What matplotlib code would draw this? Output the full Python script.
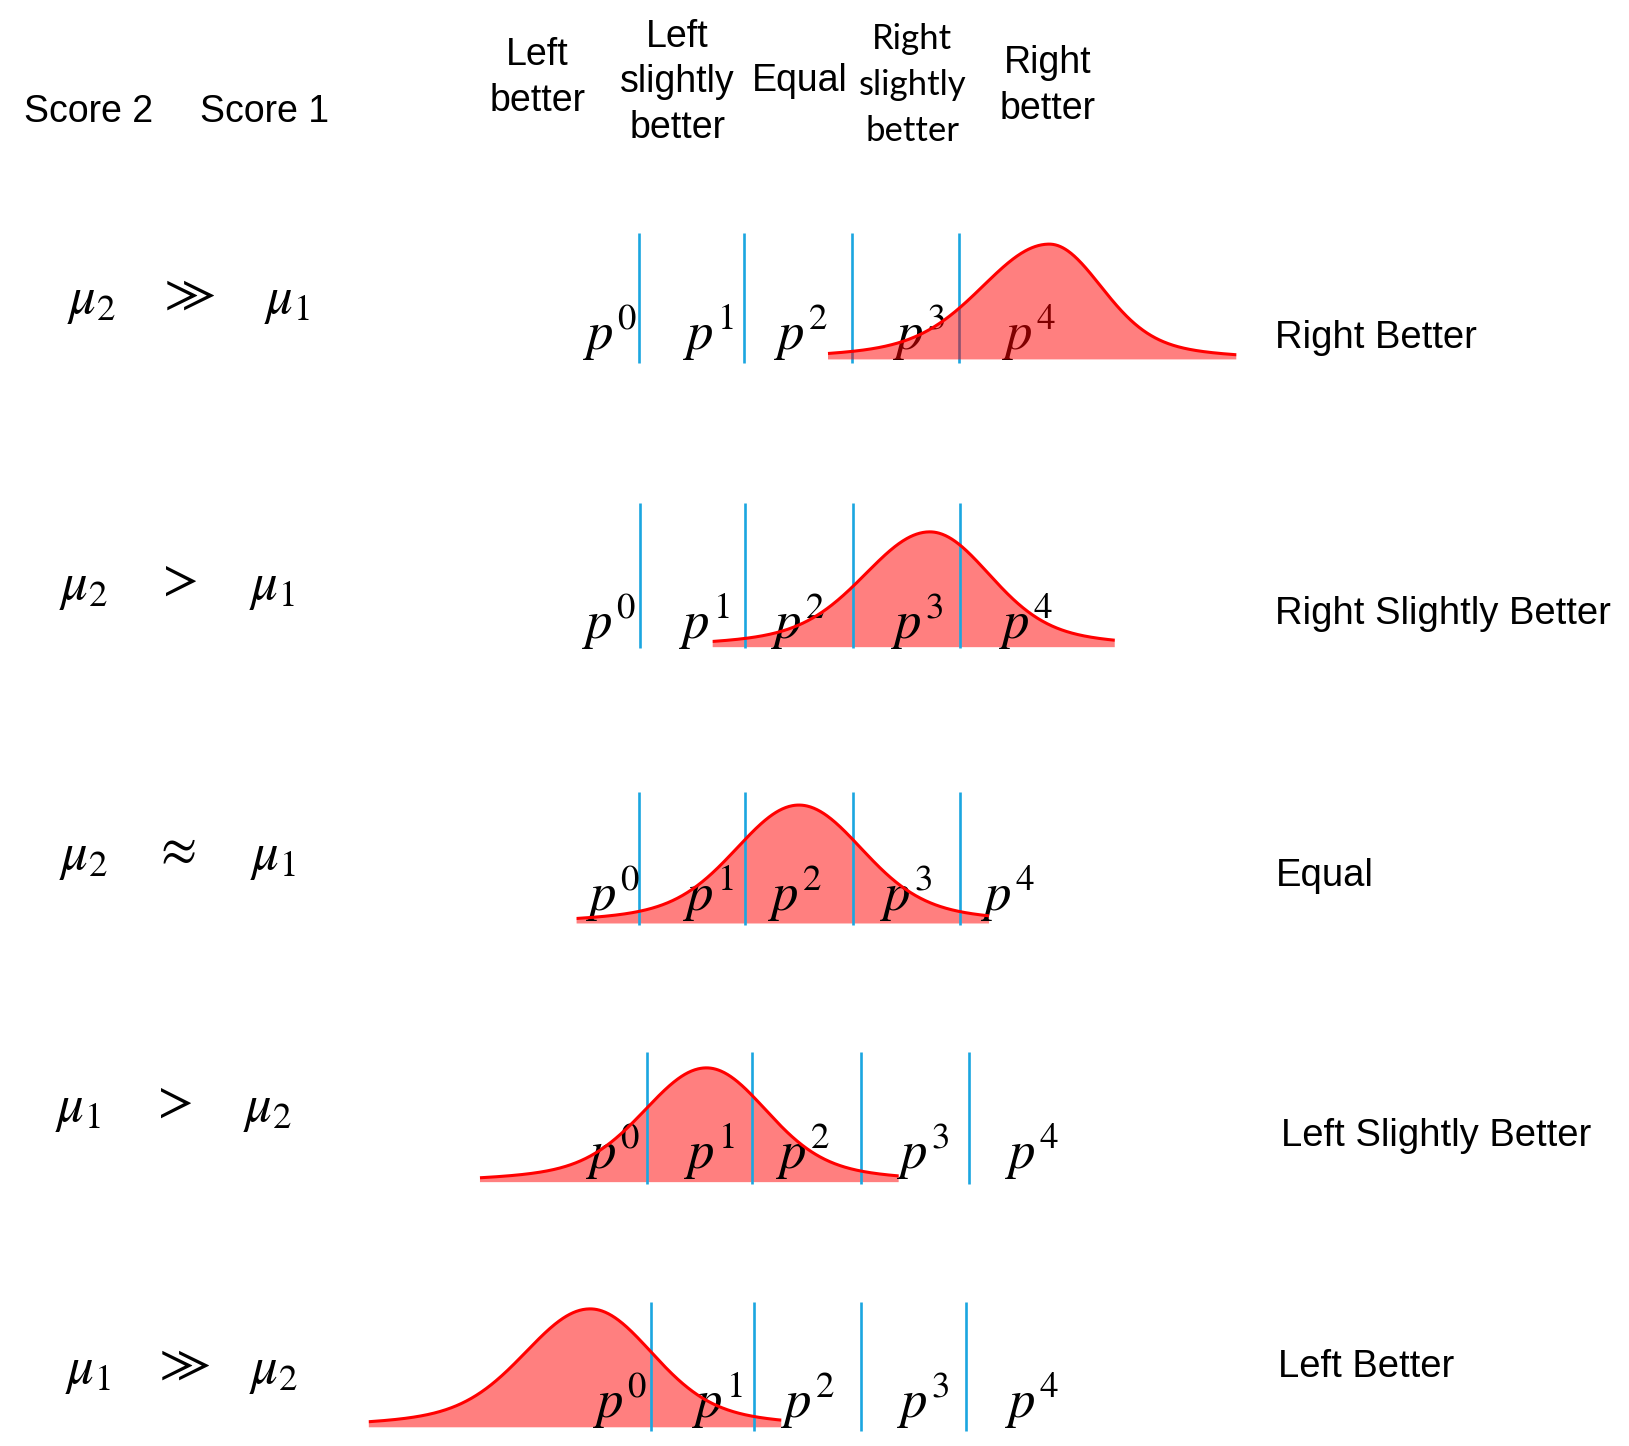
import numpy as np
import matplotlib
matplotlib.use("Agg")
import matplotlib.pyplot as plt

plt.rcParams["mathtext.fontset"] = "stix"
plt.rcParams["font.family"] = ["Liberation Sans", "DejaVu Sans"]

# --- diagram data (coordinates in a 1568 x 1392 drawing space) ---
header_labels = ["Left\nbetter", "Left\nslightly\nbetter", "Equal", "Right\nslightly\nbetter", "Right\nbetter"]
header_x = [517, 652, 770, 878, 1008]
header_y = [75, 79, 78, 82, 83]

row_names = ["Right Better", "Right Slightly Better", "Equal", "Left Slightly Better", "Left Better"]
name_x = [1227, 1227, 1228, 1233, 1230]
name_y = [335, 601, 853, 1103, 1326]

left_op = [r"$\mu_2$", r"$\mu_2$", r"$\mu_2$", r"$\mu_1$", r"$\mu_1$"]
relation = [r"$\gg$", r"$>$", r"$\approx$", r"$>$", r"$\gg$"]
right_op = [r"$\mu_1$", r"$\mu_1$", r"$\mu_1$", r"$\mu_2$", r"$\mu_2$"]
op_x = [[88, 180, 276], [80, 170, 262], [80, 168, 263], [75, 165, 257], [85, 175, 263]]
op_y = [290, 565, 825, 1068, 1320]

# bell curves
baseline = [346, 623, 889, 1138, 1374]
peak_x = [1010, 895, 769, 680, 568]
peak_h = [111, 111, 114, 110, 114]
sig_left = [62, 60, 58, 57, 60]
sig_right = [48, 55, 58, 55, 57]
curve_start = [797, 686, 555, 462, 355]
curve_end = [1190, 1073, 952, 865, 752]
fill_over_text = [True, False, False, False, False]

# category boundaries (blue lines)
bounds = [[615, 716, 820, 923], [616, 717, 821, 924], [615, 717, 821, 924],
          [623, 724, 829, 933], [627, 726, 829, 930]]
bound_top = [224, 484, 762, 1013, 1253]
bound_bottom = [349, 624, 890, 1140, 1378]

# p labels
p_text = [r"$p^0$", r"$p^1$", r"$p^2$", r"$p^3$", r"$p^4$"]
p_x = [[587, 682, 771, 885, 990], [586, 678, 768, 883, 987], [590, 682, 765, 872, 970],
       [590, 683, 773, 888, 993], [597, 690, 778, 888, 993]]
p_y = [337, 615, 877, 1125, 1365]

W, H = 1568, 1392
fig = plt.figure(figsize=(16.29, 14.46), dpi=100)
ax = fig.add_axes([0, 0, 1, 1])
ax.set_xlim(0, W)
ax.set_ylim(H, 0)
ax.axis("off")

# header
ax.text(85, 108, "Score 2", fontsize=27, ha="center", va="center")
ax.text(255, 108, "Score 1", fontsize=27, ha="center", va="center")
for lab, x, y in zip(header_labels, header_x, header_y):
    if lab.startswith("Right\nslightly"):
        ax.text(x, y, lab, fontsize=25, ha="center", va="center", family=["Lato", "DejaVu Sans"],
                linespacing=1.55)
    else:
        ax.text(x, y, lab, fontsize=27, ha="center", va="center", linespacing=1.34)

for i in range(5):
    # relation column
    xs = op_x[i]
    ax.text(xs[0], op_y[i], left_op[i], fontsize=38, ha="center", va="center")
    ax.text(xs[1], op_y[i] - 6, relation[i], fontsize=38, ha="center", va="center")
    ax.text(xs[2], op_y[i], right_op[i], fontsize=38, ha="center", va="center")

    # outcome name
    ax.text(name_x[i], name_y[i], row_names[i], fontsize=27.5, ha="left", va="baseline")

    # bell curve
    x = np.linspace(curve_start[i], curve_end[i], 500)
    dx = x - peak_x[i]
    s = np.where(dx < 0, sig_left[i], sig_right[i])
    h = peak_h[i] * (0.85 * np.exp(-dx**2 / (2 * s**2)) + 0.15 * np.exp(-dx**2 / (2 * (2.3 * s)**2)))
    top = baseline[i] - h
    zf = 4 if fill_over_text[i] else 1
    ax.fill_between(x, baseline[i], top, facecolor="red", alpha=0.5, lw=0, zorder=zf)
    ax.plot(x, top, color="red", lw=2.2, zorder=5, solid_capstyle="butt")

    # boundaries
    ax.vlines(bounds[i], bound_top[i], bound_bottom[i], color="#1ba6e0", lw=1.9, zorder=2)

    # p labels
    for t, px in zip(p_text, p_x[i]):
        ax.text(px, p_y[i], t, fontsize=38, ha="center", va="baseline", zorder=3)

fig.savefig("out.png", dpi=100)
